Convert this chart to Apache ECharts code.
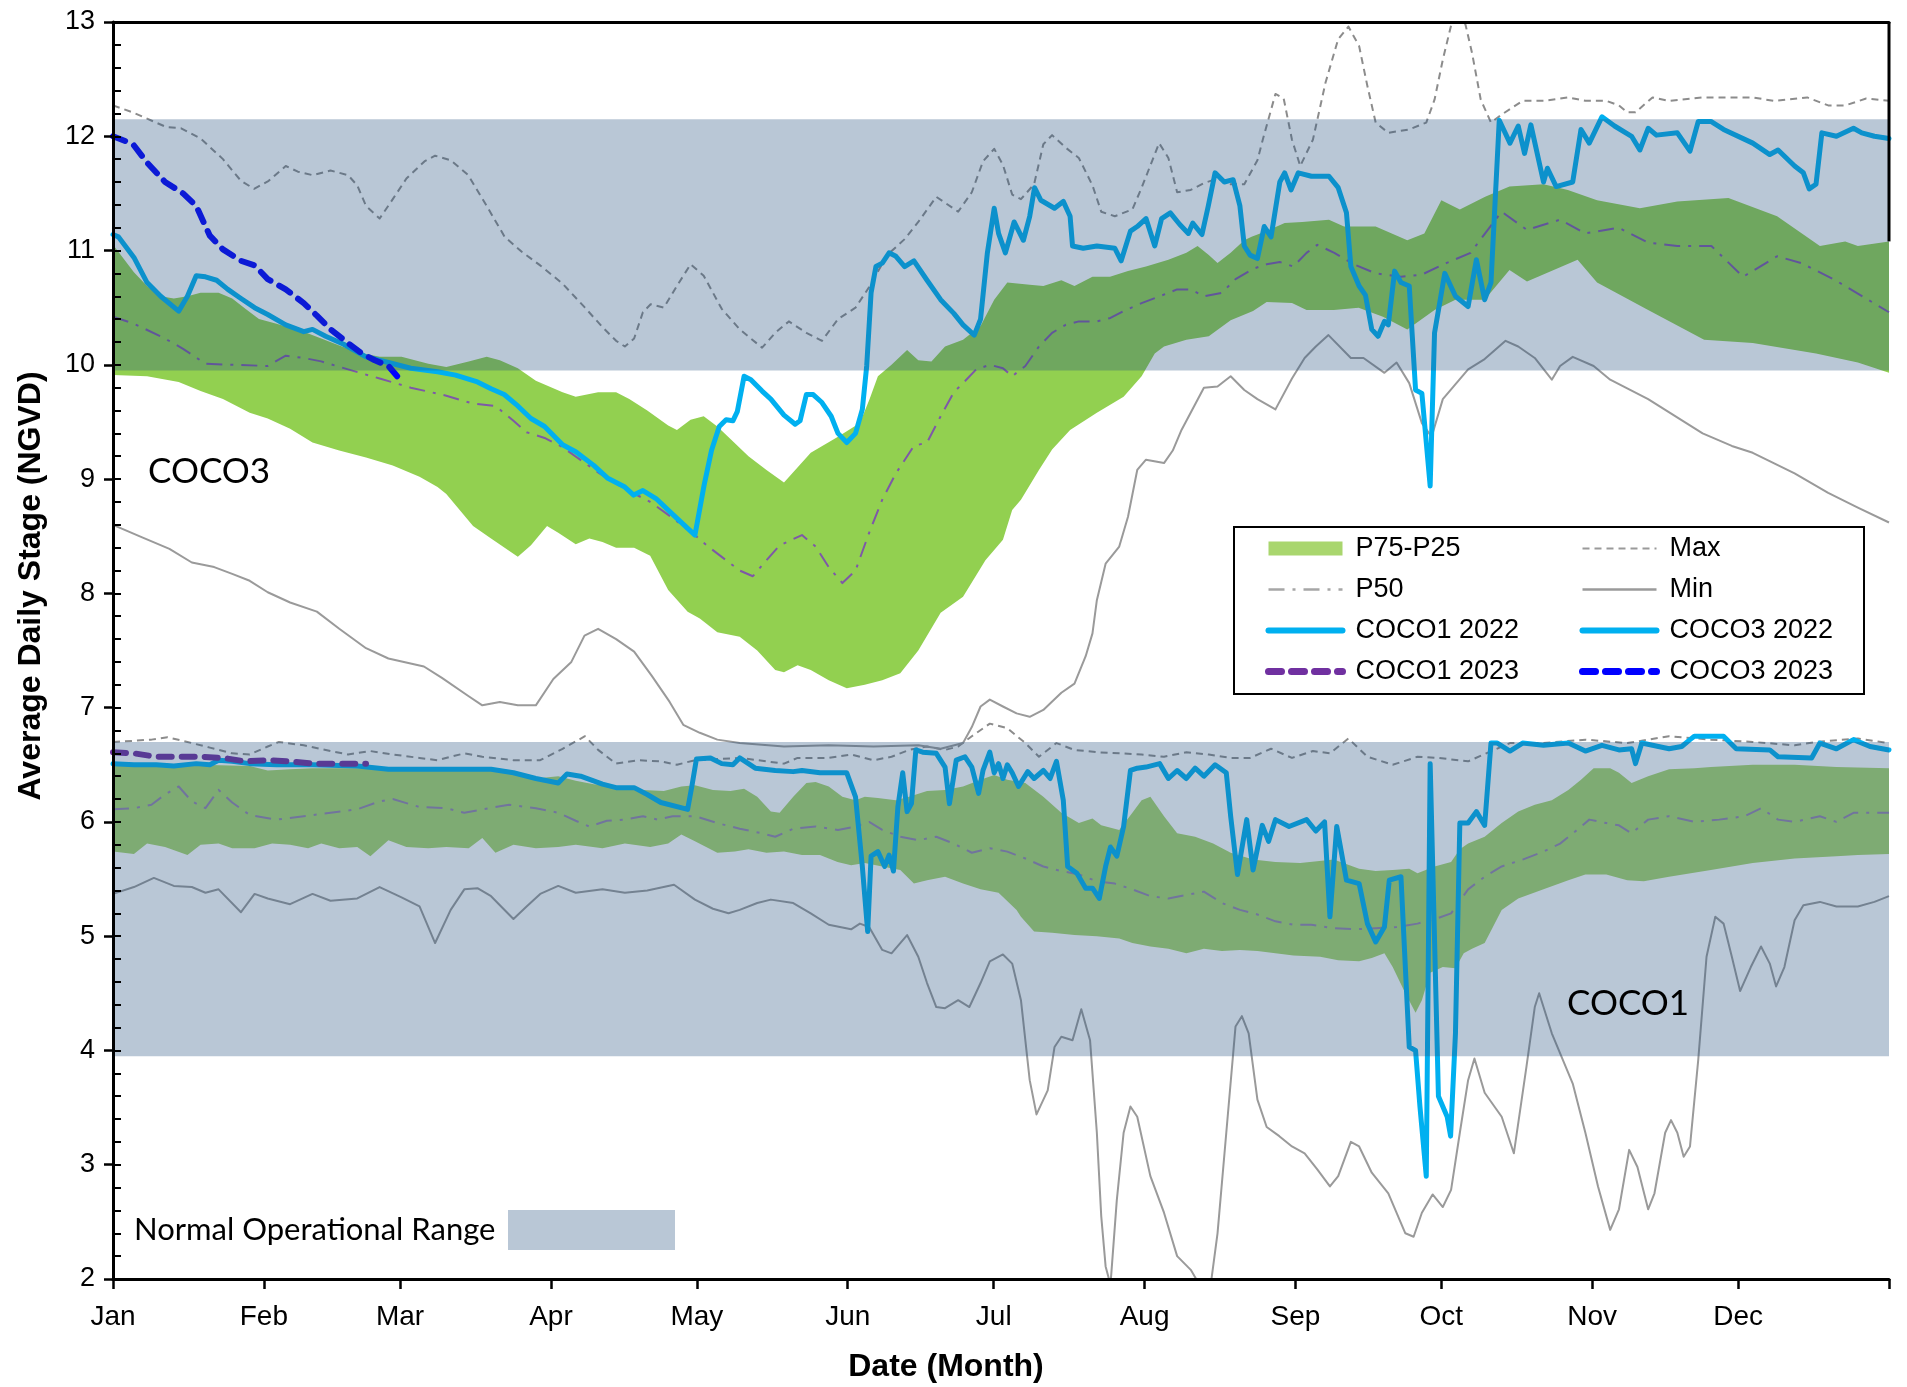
<!DOCTYPE html>
<html><head><meta charset="utf-8">
<script src="https://cdn.jsdelivr.net/npm/echarts@6/dist/echarts.min.js"></script>
<style>html,body{margin:0;padding:0;background:#fff}#c{width:1907px;height:1387px}</style>
</head><body><div id="c"></div>
<script>
// ---------- axes / labels ----------
const monthNames = ['Jan','Feb','Mar','Apr','May','Jun','Jul','Aug','Sep','Oct','Nov','Dec'];
const monthStartDays = [0,31,59,90,120,151,181,212,243,273,304,334];
const yearEndDay = 365;
const yRange = [2, 13];
const yTickStep = 1;
const yMinorStep = 0.2;

// ---------- normal operational ranges (stage, NGVD) ----------
const normalRangeCOCO3 = [9.95, 12.15];
const normalRangeCOCO1 = [3.95, 6.70];

// ---------- legend columns ----------
const legendLeftColumn = ['P75-P25', 'P50', 'COCO1 2022', 'COCO1 2023'];
const legendRightColumn = ['Max', 'Min', 'COCO3 2022', 'COCO3 2023'];

// ---------- COCO3 statistics ([day of year, stage]) ----------
const coco3Max = [[0,12.27],[4,12.21],[11,12.08],[14,12.07],[18,11.98],[22.6,11.8],[26.3,11.61],[29,11.54],[32,11.61],[35.5,11.74],[38,11.69],[41,11.66],[44.7,11.7],[48.3,11.66],[50.2,11.57],[52,11.39],[54.8,11.28],[57.5,11.45],[60.3,11.63],[64,11.78],[66.2,11.83],[69.4,11.79],[73,11.66],[76.8,11.39],[80.5,11.12],[84,10.99],[87.8,10.87],[92.4,10.71],[97,10.5],[100.6,10.33],[103.4,10.21],[105.2,10.16],[107.1,10.23],[108.9,10.46],[110.5,10.53],[113.2,10.5],[115.9,10.69],[118.7,10.88],[121.4,10.78],[125.1,10.49],[128.8,10.31],[133.4,10.15],[136.1,10.28],[138.9,10.38],[142.5,10.28],[145.7,10.21],[149,10.4],[152.6,10.5],[155.4,10.68],[159.1,10.96],[162.7,11.1],[165.5,11.25],[169.2,11.47],[173.7,11.34],[176.5,11.51],[178.8,11.78],[181.1,11.89],[182.9,11.75],[184.8,11.49],[186.6,11.45],[189.3,11.58],[191.2,11.93],[193,12.01],[195.8,11.9],[198.5,11.81],[201.3,11.57],[203.1,11.34],[205.9,11.3],[209.5,11.36],[211.4,11.55],[215,11.94],[216.9,11.81],[218.7,11.51],[221.5,11.53],[224.2,11.59],[227,11.63],[229.7,11.58],[232.5,11.58],[235.2,11.79],[236.3,11.97],[238.9,12.37],[240.6,12.33],[242.3,11.97],[244,11.74],[246.6,11.97],[249.2,12.47],[251.8,12.85],[253.9,12.96],[256.1,12.79],[257.8,12.44],[259.5,12.12],[262.1,12.03],[266.4,12.06],[269.9,12.12],[271.6,12.32],[273.3,12.67],[275,12.97],[276.5,13.15],[278,12.97],[279.3,12.73],[281.1,12.32],[283.2,12.12],[285.4,12.19],[289.7,12.31],[294,12.31],[299.1,12.34],[302.6,12.31],[306.9,12.31],[309.5,12.27],[311.2,12.21],[312.9,12.21],[316.4,12.34],[319.8,12.31],[326.7,12.34],[337,12.34],[341.3,12.31],[348.2,12.34],[352.5,12.27],[356,12.27],[360.3,12.33],[365,12.31]];
const coco3Min = [[0,8.6],[6,8.49],[11.6,8.39],[16.2,8.27],[20.8,8.23],[24.5,8.17],[28.1,8.11],[31.8,8.01],[36.4,7.92],[41.9,7.84],[46.5,7.69],[52,7.52],[56.6,7.43],[63.9,7.36],[67.6,7.26],[73.1,7.1],[75.9,7.02],[79.5,7.05],[83.2,7.02],[86.9,7.02],[90.5,7.25],[94.2,7.4],[96.9,7.63],[99.7,7.69],[103.4,7.6],[107.1,7.49],[110.7,7.28],[114.4,7.05],[117.2,6.85],[120.6,6.78],[124.2,6.72],[128.8,6.69],[137.9,6.66],[147.1,6.67],[156.3,6.66],[165.5,6.67],[170.1,6.64],[174.7,6.69],[176.5,6.83],[178.3,7.01],[180.2,7.07],[182.9,7.01],[185.7,6.95],[188.4,6.92],[191.2,6.98],[194.9,7.13],[197.6,7.21],[199.9,7.45],[201.3,7.65],[202.2,7.94],[204,8.26],[206.8,8.41],[208.6,8.67],[210.5,9.08],[212.3,9.17],[216,9.14],[217.8,9.25],[219.6,9.43],[224.2,9.8],[227,9.81],[229.7,9.9],[232.5,9.78],[235.2,9.7],[238.9,9.61],[242.3,9.88],[244.9,10.06],[247.2,10.16],[249.8,10.26],[254.4,10.06],[257,10.06],[261.3,9.93],[263.8,10.02],[266.4,9.84],[269,9.49],[271,9.37],[273.3,9.7],[278.5,9.96],[281.9,10.05],[286.2,10.21],[288.8,10.16],[292.2,10.06],[295.7,9.87],[297.4,9.99],[300,10.07],[304.3,9.99],[307.7,9.87],[315.5,9.7],[326.7,9.4],[332.7,9.29],[337,9.23],[345.6,9.05],[352.5,8.88],[358.6,8.75],[365,8.62]];
const coco3P75 = [[0,11.05],[4.3,10.81],[7,10.69],[9.8,10.6],[12.5,10.58],[15.3,10.6],[18,10.63],[21.7,10.63],[24.5,10.58],[27.2,10.49],[30,10.4],[33.6,10.36],[39.2,10.29],[42.8,10.23],[46.5,10.17],[50.2,10.11],[54.8,10.07],[59.3,10.07],[64.8,10.01],[68.5,9.98],[73.1,10.03],[76.8,10.07],[79.5,10.04],[83.2,9.97],[86.9,9.86],[92.4,9.76],[95.1,9.72],[99.7,9.76],[103.4,9.76],[106.1,9.7],[109.8,9.6],[114.1,9.47],[115.9,9.43],[118.7,9.52],[121.4,9.55],[124.2,9.46],[126.9,9.35],[130.6,9.2],[134.3,9.08],[137.9,8.97],[143.4,9.23],[149,9.37],[153.5,9.49],[155.5,9.7],[157.2,9.9],[160,10.0],[163.2,10.13],[165.5,10.04],[168.2,10.03],[171,10.16],[174.7,10.22],[178.3,10.34],[181.1,10.57],[183.8,10.72],[188.4,10.7],[191.2,10.69],[194.9,10.74],[197.6,10.69],[201.3,10.77],[204.9,10.77],[208.6,10.82],[212.3,10.86],[216.9,10.92],[220.6,10.98],[222.9,11.04],[225.2,10.96],[227,10.89],[229.7,10.98],[232.5,11.09],[234,11.12],[237.1,11.17],[240.8,11.24],[244.4,11.25],[249.9,11.27],[253,11.21],[259.5,11.21],[266,11.09],[269.5,11.15],[273,11.44],[276.8,11.36],[282,11.47],[287,11.56],[294,11.58],[299,11.53],[305,11.44],[313.8,11.37],[321.5,11.43],[332,11.46],[342,11.3],[350.8,11.04],[356,11.08],[358.6,11.04],[365,11.08]];
const coco3P25 = [[0,9.91],[7,9.9],[13.5,9.85],[18,9.77],[22.6,9.7],[28.1,9.58],[31.8,9.53],[36.4,9.44],[41,9.32],[46.5,9.25],[52,9.19],[57.5,9.12],[63,9.02],[66.7,8.93],[68.5,8.87],[74,8.59],[77.7,8.48],[83.2,8.32],[85.9,8.42],[89.2,8.59],[91.5,8.53],[95.1,8.43],[97.9,8.48],[100.6,8.45],[103.4,8.4],[107.1,8.4],[110.4,8.33],[114.1,8.03],[118.1,7.84],[120.6,7.78],[124.2,7.66],[128.8,7.62],[132.4,7.5],[136.1,7.33],[137.9,7.31],[140.7,7.37],[143.4,7.33],[147.1,7.24],[150.8,7.17],[154.5,7.2],[158.1,7.24],[161.8,7.3],[165.5,7.5],[170.1,7.83],[174.7,7.97],[179.3,8.29],[182.9,8.47],[184.8,8.73],[186.6,8.82],[190.3,9.08],[193,9.26],[196.7,9.43],[202.2,9.58],[207.7,9.72],[211.4,9.9],[214.1,10.1],[216,10.16],[220.6,10.22],[225.2,10.25],[229.7,10.39],[234.3,10.47],[237.1,10.55],[242.3,10.54],[245.3,10.48],[250.9,10.48],[256,10.5],[261,10.42],[266,10.31],[271.6,10.48],[275.9,10.57],[281.9,10.57],[287,10.83],[290.6,10.73],[301,10.92],[305,10.72],[315.5,10.48],[327,10.22],[337,10.19],[350,10.1],[358.6,10.02],[365,9.93]];
const coco3P50 = [[0,10.42],[4.3,10.36],[10.7,10.23],[14.4,10.14],[19,10.01],[24.5,10.0],[31.8,9.99],[35.5,10.08],[39.2,10.06],[42.8,10.03],[48.3,9.96],[54.8,9.88],[61.2,9.8],[68.5,9.73],[74,9.66],[78.6,9.64],[82.3,9.51],[85,9.41],[88.7,9.36],[92.4,9.28],[95,9.2],[100,9.05],[105,8.92],[110.4,8.8],[115,8.66],[119.6,8.51],[122.3,8.41],[128.8,8.2],[131.5,8.15],[134.3,8.29],[137,8.42],[141.6,8.51],[144.4,8.41],[147.1,8.23],[149.9,8.09],[152.6,8.2],[155.4,8.53],[158.1,8.82],[160.9,9.05],[164.6,9.29],[167.3,9.32],[170.1,9.55],[172.8,9.76],[174.7,9.84],[177.4,9.96],[180.2,10.0],[182.9,9.97],[184.8,9.9],[187.5,9.99],[190.3,10.16],[193,10.28],[195.8,10.35],[198.5,10.38],[202.2,10.38],[205,10.41],[207.7,10.47],[211.4,10.54],[215.1,10.6],[218.7,10.66],[221.5,10.66],[224.2,10.6],[227.9,10.63],[230.7,10.75],[234.3,10.84],[237.1,10.88],[239.8,10.9],[242.6,10.86],[245.3,10.98],[247.5,11.05],[251,10.98],[255,10.88],[259.5,10.8],[264.7,10.77],[269,10.79],[274,10.89],[279,10.98],[282,11.15],[285.4,11.34],[290.6,11.18],[297.4,11.27],[302.6,11.15],[309.4,11.2],[315.5,11.07],[321.5,11.04],[328.5,11.04],[335,10.77],[342,10.95],[347,10.89],[354,10.74],[365,10.46]];
const coco3Stage2022 = [[0,11.14],[1.1,11.12],[4.3,10.94],[7,10.72],[9.8,10.6],[13.5,10.47],[15.3,10.6],[17.1,10.78],[19,10.77],[21.3,10.74],[23.6,10.66],[26.3,10.58],[29.1,10.5],[31.8,10.44],[35.5,10.35],[39.2,10.29],[41,10.31],[43.7,10.25],[47.4,10.18],[52,10.07],[56.6,10.02],[61.2,9.97],[66.7,9.94],[70.4,9.91],[74.9,9.85],[77.7,9.79],[80.4,9.74],[83.2,9.64],[85.9,9.53],[88.7,9.46],[92.4,9.3],[95.1,9.24],[98.8,9.12],[101.6,9.01],[105.2,8.93],[107,8.86],[108.9,8.9],[111.6,8.83],[115.3,8.68],[119.6,8.51],[121.5,8.95],[123,9.25],[124.6,9.46],[126,9.52],[127.4,9.51],[128.3,9.59],[129.7,9.9],[131.1,9.87],[133.4,9.77],[135.2,9.7],[137.9,9.56],[140.2,9.48],[141.2,9.51],[142.5,9.74],[143.9,9.74],[145.7,9.67],[147.6,9.55],[149,9.4],[150.8,9.32],[152.6,9.4],[154,9.61],[154.9,9.99],[155.8,10.63],[156.8,10.86],[158.1,10.89],[159.5,10.98],[160.9,10.95],[162.7,10.86],[164.6,10.91],[167.3,10.74],[170.1,10.57],[172.8,10.45],[174.7,10.35],[177,10.26],[178.3,10.4],[179.7,10.98],[181.1,11.37],[182,11.15],[183.4,10.98],[185.2,11.25],[187.1,11.09],[188.4,11.3],[189.4,11.55],[190.7,11.44],[193.5,11.37],[195.3,11.43],[196.7,11.3],[197.2,11.04],[199.4,11.02],[202.2,11.04],[205.9,11.02],[207.2,10.91],[209.1,11.17],[210.5,11.21],[212.3,11.28],[214.1,11.04],[215.5,11.28],[217.3,11.33],[219.2,11.23],[221,11.15],[221.9,11.24],[223.8,11.14],[225.1,11.39],[226.5,11.68],[228.4,11.6],[230.2,11.62],[231.6,11.39],[232.5,11.04],[233.7,10.96],[235.2,10.93],[236.6,11.21],[238,11.12],[239.8,11.6],[240.8,11.68],[242.1,11.53],[243.6,11.68],[246.3,11.65],[249.9,11.65],[251.8,11.55],[253.5,11.33],[254.4,10.86],[256.1,10.69],[257.4,10.61],[258.7,10.31],[260,10.25],[261.3,10.38],[262.1,10.35],[263.4,10.82],[264.7,10.72],[266.4,10.69],[267.7,9.78],[269,9.75],[270.7,8.94],[271.6,10.28],[273.7,10.8],[275.9,10.6],[278.5,10.51],[280.2,10.92],[281.9,10.57],[283.2,10.72],[284.9,12.14],[287.1,11.94],[288.8,12.09],[290.1,11.85],[291.4,12.1],[294,11.6],[294.8,11.72],[296.6,11.56],[300,11.6],[301.7,12.06],[303.4,11.94],[306,12.17],[308.6,12.09],[312.1,12.0],[313.8,11.88],[315.5,12.07],[317.2,12.01],[321.5,12.03],[324.1,11.87],[325.8,12.13],[328.4,12.13],[331,12.06],[337,11.94],[340.5,11.84],[342.2,11.88],[345.6,11.74],[347.4,11.68],[348.6,11.54],[350,11.58],[351.2,12.03],[354.2,12.0],[357.7,12.07],[359.4,12.03],[362,12.0],[365,11.98]];
const coco3Stage2023 = [[0,12.0],[3,11.95],[4.3,11.92],[7,11.77],[10.7,11.6],[14.4,11.5],[17.1,11.39],[19.9,11.13],[22.6,11.01],[26.3,10.91],[29.1,10.87],[31.8,10.75],[35.5,10.66],[39.2,10.54],[41.9,10.43],[44.7,10.31],[48.3,10.19],[51.1,10.1],[53.8,10.04],[56.6,9.99],[58.4,9.9]];

// ---------- COCO1 statistics ----------
const coco1Max = [[0,6.7],[4.3,6.71],[7.9,6.72],[11.2,6.74],[15.3,6.7],[19.9,6.65],[24.5,6.6],[28.1,6.59],[31.8,6.66],[34.1,6.7],[39.2,6.67],[44.7,6.62],[48.3,6.59],[52.9,6.62],[57.5,6.59],[63,6.56],[66.7,6.54],[72.2,6.6],[75.9,6.57],[82.3,6.54],[87.8,6.54],[92.4,6.64],[97,6.75],[99.7,6.63],[103.4,6.51],[108,6.54],[112.6,6.53],[115.9,6.5],[119.6,6.54],[128.8,6.56],[134.3,6.53],[137.9,6.51],[140.7,6.56],[147.1,6.56],[151.7,6.59],[156.3,6.54],[160,6.57],[163.6,6.63],[167.3,6.66],[171,6.63],[173.7,6.66],[176.5,6.75],[180.2,6.86],[183.8,6.82],[187.5,6.69],[190.3,6.57],[193.9,6.69],[197.6,6.63],[202.2,6.61],[206.8,6.6],[211.4,6.59],[216,6.57],[220.6,6.61],[225.2,6.59],[229.7,6.56],[233.7,6.56],[238,6.64],[242.3,6.56],[246.6,6.62],[250.1,6.6],[253.9,6.73],[257.8,6.57],[263,6.5],[268.1,6.57],[272.4,6.56],[278.5,6.53],[282.8,6.61],[287.1,6.69],[294,6.69],[302.6,6.72],[311.2,6.69],[319.8,6.75],[328.4,6.72],[337,6.7],[345.6,6.67],[350,6.7],[358.6,6.73],[365,6.69]];
const coco1Min = [[0,5.37],[4.3,5.43],[8.4,5.51],[12.5,5.44],[16.2,5.43],[19,5.38],[21.7,5.41],[26.3,5.21],[29.1,5.37],[31.8,5.33],[36.4,5.28],[41,5.37],[44.7,5.31],[50.2,5.33],[54.8,5.43],[59.3,5.34],[63,5.26],[66.2,4.94],[69.4,5.23],[72.2,5.41],[74.9,5.42],[77.7,5.35],[82.3,5.15],[85,5.26],[87.8,5.37],[91.5,5.44],[95.1,5.38],[100.6,5.41],[105.2,5.38],[109.8,5.4],[115.3,5.45],[119.6,5.32],[123.3,5.24],[126.5,5.2],[128.8,5.23],[132.4,5.29],[135.2,5.32],[139.8,5.29],[143.4,5.2],[147.1,5.1],[151.7,5.06],[153.5,5.11],[155.4,5.08],[158.1,4.88],[160,4.85],[163.2,5.01],[165.5,4.82],[167.3,4.59],[169.2,4.38],[171,4.37],[173.7,4.44],[176,4.38],[178.3,4.59],[180.2,4.78],[182.9,4.84],[184.8,4.76],[186.6,4.44],[188.4,3.74],[189.8,3.44],[192.1,3.65],[193.5,4.03],[194.9,4.12],[197.2,4.09],[199,4.36],[200.8,4.09],[202.2,3.28],[203.1,2.55],[204,2.11],[205,1.95],[206.3,2.69],[207.7,3.28],[209.1,3.51],[210.5,3.42],[213.2,2.9],[216,2.58],[218.7,2.2],[221.5,2.08],[223.3,1.95],[225.6,1.95],[227,2.4],[228.8,3.28],[230.7,4.21],[232,4.3],[233.4,4.15],[235.2,3.57],[237.1,3.33],[239.7,3.25],[242.3,3.16],[244.9,3.1],[247.5,2.96],[250.1,2.81],[251.8,2.9],[254.4,3.2],[256.1,3.16],[258.7,2.93],[262.1,2.75],[265.6,2.4],[267.3,2.37],[269,2.58],[271.2,2.74],[273.3,2.63],[275,2.78],[276.8,3.28],[278.5,3.74],[279.8,3.93],[281.9,3.63],[285.4,3.42],[287.9,3.1],[290.5,3.86],[292.2,4.38],[293.1,4.5],[295.7,4.15],[300,3.71],[302.6,3.28],[305.2,2.81],[307.7,2.43],[309.5,2.61],[311.6,3.13],[313.3,2.98],[315.5,2.61],[316.8,2.75],[319,3.28],[320.2,3.39],[321.5,3.28],[322.8,3.07],[324.1,3.16],[325.8,3.92],[327.5,4.82],[329.3,5.17],[331,5.11],[332.7,4.82],[334.4,4.52],[336.6,4.73],[338.7,4.91],[340.5,4.76],[341.8,4.56],[343.5,4.73],[345.6,5.14],[347.4,5.27],[350.8,5.3],[354.2,5.26],[358.6,5.26],[362,5.3],[365,5.35]];
const coco1P75 = [[0,6.5],[8.9,6.49],[18,6.5],[28.1,6.49],[31.8,6.45],[36.4,6.46],[41,6.47],[50.2,6.47],[59.3,6.46],[68.5,6.46],[77.7,6.46],[82.3,6.43],[86.9,6.38],[91.5,6.4],[95.1,6.36],[98.8,6.33],[105.2,6.31],[108.9,6.28],[113.2,6.27],[116.8,6.31],[119.6,6.32],[123.3,6.28],[126.9,6.27],[129.7,6.29],[132.4,6.22],[135.2,6.09],[137,6.08],[139.8,6.22],[142.5,6.34],[144.4,6.35],[147.1,6.31],[149.9,6.22],[152.6,6.19],[154.5,6.22],[157.2,6.21],[160.9,6.19],[163.6,6.22],[167.3,6.27],[171,6.28],[174.7,6.31],[178.3,6.37],[181.1,6.41],[183.8,6.37],[187.5,6.34],[191.2,6.22],[194.9,6.08],[198.5,5.99],[201.3,6.03],[203.1,5.97],[206.8,5.93],[209.5,6.08],[211.4,6.19],[213.2,6.22],[216,6.05],[218.7,5.9],[222.4,5.87],[226.1,5.81],[229.7,5.73],[234.3,5.67],[238.9,5.65],[244,5.64],[250.9,5.67],[256.1,5.59],[259.5,5.57],[263,5.58],[266.4,5.59],[268.1,5.55],[271.6,5.61],[275,5.65],[276.8,5.76],[278.5,5.81],[281.9,5.87],[285.4,5.99],[288.8,6.09],[292.2,6.15],[295.7,6.19],[299.1,6.28],[301.7,6.37],[304.3,6.47],[307.7,6.47],[309.5,6.43],[312.1,6.34],[315.5,6.4],[319.8,6.46],[325,6.47],[328.4,6.48],[337,6.5],[345.6,6.5],[354.2,6.48],[365,6.47]];
const coco1P25 = [[0,5.74],[4.3,5.72],[7,5.81],[10.7,5.78],[15.3,5.71],[18,5.8],[21.7,5.81],[24.5,5.77],[29.1,5.77],[32.7,5.81],[36.4,5.8],[40.1,5.77],[42.8,5.81],[46.5,5.77],[50.2,5.78],[52.9,5.7],[56.6,5.84],[60.3,5.78],[64.8,5.77],[68.5,5.78],[73.1,5.77],[75.9,5.86],[78.6,5.73],[82.3,5.8],[86.9,5.77],[91.5,5.78],[95.1,5.8],[100.6,5.77],[105.2,5.81],[110.4,5.78],[114.1,5.81],[116.8,5.89],[119.6,5.83],[124.2,5.73],[127.8,5.74],[130.6,5.76],[134.3,5.73],[137.9,5.74],[141.6,5.71],[145.3,5.71],[148.9,5.65],[151.7,5.62],[154.5,5.64],[158.1,5.61],[161.8,5.58],[164.6,5.46],[167.3,5.49],[171,5.52],[174.7,5.46],[178.3,5.41],[182,5.38],[185.7,5.23],[186.6,5.17],[189.3,5.04],[193,5.03],[197.6,5.01],[202.2,5.0],[206.8,4.98],[209.5,4.94],[213.2,4.91],[216.9,4.89],[220.6,4.85],[224.2,4.89],[227.9,4.87],[231.6,4.88],[235.2,4.87],[238.9,4.85],[242.6,4.83],[248.1,4.82],[251.8,4.79],[256.1,4.78],[258.7,4.81],[261.3,4.85],[263,4.73],[265.6,4.5],[267.7,4.33],[269,4.44],[270.7,4.68],[273.3,4.73],[275.9,4.72],[277.6,4.85],[279.3,4.89],[281.9,4.94],[283.6,5.08],[285.4,5.23],[288.8,5.33],[294,5.41],[299.1,5.49],[302.6,5.54],[306.9,5.54],[311.2,5.49],[314.6,5.48],[319.8,5.52],[328.4,5.58],[337,5.64],[345.6,5.68],[354.2,5.7],[358.6,5.71],[365,5.72]];
const coco1P50 = [[0,6.11],[4.3,6.12],[7.9,6.15],[10.7,6.24],[13.5,6.31],[16.2,6.18],[19,6.12],[21.7,6.28],[24.5,6.17],[28.1,6.06],[33.6,6.02],[39.2,6.05],[44.7,6.08],[50.2,6.11],[54.8,6.18],[57.5,6.2],[63,6.13],[68.5,6.12],[72.2,6.08],[75.9,6.11],[81.4,6.15],[86.9,6.12],[91.5,6.08],[95.1,6.01],[97.9,5.96],[101.5,6.01],[105.2,6.02],[108.9,6.05],[112,6.02],[115,6.05],[119.6,6.05],[124.2,5.99],[128.8,5.94],[133.4,5.9],[136.1,5.87],[139.8,5.94],[144.4,5.96],[149,5.93],[152.6,5.96],[155.4,6.0],[158.1,5.93],[161.8,5.87],[165.5,5.84],[169.2,5.87],[172.8,5.81],[176.5,5.73],[180.2,5.77],[183.8,5.74],[187.5,5.68],[191.2,5.61],[194.9,5.57],[198.5,5.54],[202.2,5.48],[205.9,5.46],[209.5,5.41],[213.2,5.35],[216.9,5.33],[220.6,5.36],[224.2,5.39],[227.9,5.29],[231.6,5.23],[235.2,5.19],[238.9,5.13],[242.6,5.1],[246.3,5.1],[250.9,5.07],[255.2,5.06],[259.5,5.07],[263.8,5.08],[268.1,5.11],[272.4,5.16],[275,5.2],[278.5,5.41],[281.9,5.52],[285.4,5.61],[289.7,5.67],[294,5.74],[297.4,5.81],[300.9,5.93],[303.4,6.02],[306.9,5.99],[309.5,5.97],[312.1,5.9],[315.5,6.02],[319.8,6.05],[325,6.0],[330.1,6.02],[335.3,6.05],[338.7,6.12],[342.2,6.02],[345.6,6.0],[350.8,6.05],[354.2,6.0],[357.7,6.08],[365,6.08]];
const coco1Stage2022 = [[0,6.51],[4.3,6.5],[8.9,6.5],[12.5,6.49],[17.1,6.51],[19.9,6.5],[21.7,6.54],[24.5,6.53],[28.1,6.51],[33.6,6.5],[41,6.5],[50.2,6.49],[56.6,6.46],[68.5,6.46],[77.7,6.46],[82.3,6.43],[86.9,6.38],[91.5,6.34],[93.3,6.42],[96.1,6.4],[100.6,6.33],[103.4,6.3],[107.1,6.3],[109.8,6.24],[112.6,6.17],[118.1,6.11],[119,6.32],[119.9,6.55],[122.8,6.56],[125.1,6.51],[127.4,6.5],[128.8,6.56],[132,6.47],[136.1,6.45],[139.8,6.44],[141.6,6.45],[145.3,6.43],[150.8,6.43],[152.6,6.22],[154,5.61],[155.1,5.04],[155.8,5.7],[157.2,5.74],[158.6,5.61],[159.5,5.71],[160.4,5.57],[161.3,6.13],[162.3,6.43],[163.2,6.09],[164.1,6.16],[165,6.63],[166.4,6.61],[169.2,6.6],[171,6.48],[171.9,6.16],[173.3,6.54],[175.1,6.57],[176.5,6.48],[177.9,6.25],[178.8,6.45],[180.2,6.61],[181.1,6.43],[182,6.51],[182.9,6.38],[183.8,6.5],[184.8,6.43],[186.1,6.31],[188,6.44],[189.3,6.38],[191.2,6.45],[192.6,6.38],[193.9,6.53],[195.3,6.19],[196.2,5.61],[198.1,5.55],[199.9,5.42],[201.3,5.42],[202.7,5.33],[204,5.61],[205,5.78],[206.3,5.7],[207.7,5.96],[209.1,6.45],[210.5,6.47],[212.3,6.48],[215.1,6.51],[216.9,6.38],[218.7,6.45],[220.6,6.38],[222.4,6.47],[224.2,6.4],[226.5,6.5],[228.8,6.43],[229.7,6.05],[231.1,5.54],[233,6.02],[234.3,5.58],[236.2,5.97],[237.5,5.83],[238.9,6.02],[241.7,5.96],[245.3,6.02],[247.2,5.92],[249,6.0],[250.1,5.17],[251.5,5.96],[253.5,5.49],[256.1,5.46],[257.8,5.11],[259.5,4.95],[261.3,5.08],[262.3,5.49],[264.7,5.52],[265.6,4.73],[266.4,4.03],[267.7,4.0],[268.6,3.51],[269.9,2.9],[270.7,6.51],[272.4,3.6],[274.2,3.42],[274.9,3.25],[275.9,4.15],[276.8,5.99],[278.5,5.99],[280.2,6.09],[281.9,5.97],[283.2,6.69],[284.5,6.69],[287.1,6.62],[289.7,6.69],[294,6.67],[299.1,6.69],[302.6,6.62],[306,6.67],[309.5,6.63],[312.1,6.64],[312.9,6.51],[314.2,6.69],[319.8,6.64],[322.4,6.66],[324.1,6.72],[325,6.75],[331,6.75],[333.6,6.64],[340.5,6.63],[342.2,6.57],[349.1,6.56],[350.8,6.69],[354.2,6.64],[357.7,6.72],[361.1,6.66],[365,6.63]];
const coco1Stage2023 = [[0,6.61],[4.3,6.6],[8.9,6.57],[13.5,6.57],[18,6.57],[22.6,6.56],[27.2,6.53],[31.8,6.54],[36.4,6.53],[41,6.51],[45.6,6.51],[52,6.51]];

// ---------- styling ----------
const FONT = "'Liberation Sans', Arial, sans-serif";
const OVERLAY = 'rgba(36,80,127,0.32)';

const chart = echarts.init(document.getElementById('c'), null, {renderer: 'canvas', width: 1907, height: 1387});

function band(upper, lower, color) {
  return {
    type: 'custom', name: 'P75-P25', z: 1, silent: true,
    coordinateSystem: 'cartesian2d',
    itemStyle: {color: color},
    data: [[upper[0][0], upper[0][1]]],
    renderItem: function (params, api) {
      const pts = upper.map(p => api.coord(p)).concat(lower.slice().reverse().map(p => api.coord(p)));
      return {type: 'polygon', shape: {points: pts}, style: {fill: color}};
    }
  };
}
function line(name, data, color, width, type, z, cap) {
  return {
    type: 'line', name: name, data: data, symbol: 'none', showSymbol: false, z: z, silent: true,
    clip: true, smooth: false, animation: false,
    lineStyle: {color: color, width: width, type: type, cap: cap || 'butt', join: 'round'},
    itemStyle: {color: color},
    emphasis: {disabled: true}
  };
}
const legendItemOverrides = {
  'P75-P25': {icon: 'rect', itemStyle: {color: '#A9D66E', opacity: 1}},
  'Max': {lineStyle: {width: 2, color: '#9A9A9A'}},
  'P50': {lineStyle: {color: '#A6A6A6', width: 2.5}},
  'Min': {lineStyle: {width: 2.5, color: '#9A9A9A'}},
  'COCO1 2022': {lineStyle: {width: 6, cap: 'round'}},
  'COCO3 2022': {lineStyle: {width: 6, cap: 'round'}},
  'COCO1 2023': {lineStyle: {width: 7, cap: 'round'}},
  'COCO3 2023': {lineStyle: {width: 7, cap: 'round'}}
};
function legendCol(names, left) {
  return {
    show: true, z: 12, left: left, top: 535, padding: 0,
    orient: 'vertical', itemGap: 14, itemWidth: 74, itemHeight: 14,
    selectedMode: false,
    itemStyle: {opacity: 0},
    textStyle: {fontFamily: FONT, fontSize: 27, color: '#000', padding: [0, 0, 0, 8]},
    data: names.map(n => Object.assign({name: n}, legendItemOverrides[n] || {}))
  };
}

const rangeData = [normalRangeCOCO3, normalRangeCOCO1];

const option = {
  animation: false,
  backgroundColor: '#ffffff',
  grid: {left: 113, right: 18, top: 22, bottom: 108, containLabel: false, outerBoundsMode: 'none'},
  xAxis: [{
    type: 'value', min: 0, max: yearEndDay, position: 'bottom', z: 10,
    axisLine: {show: true, onZero: false, lineStyle: {color: '#000', width: 3}},
    axisTick: {show: true, inside: false, length: 10, customValues: monthStartDays.concat([yearEndDay]), lineStyle: {color: '#000', width: 2.5}},
    axisLabel: {show: true, margin: 24, customValues: monthStartDays, fontFamily: FONT, fontSize: 28, color: '#000',
      formatter: function (v) { const i = monthStartDays.indexOf(Math.round(v)); return i >= 0 ? monthNames[i] : ''; }},
    splitLine: {show: false}
  }, {
    type: 'value', min: 0, max: yearEndDay, position: 'top', z: 10,
    axisLine: {show: true, onZero: false, lineStyle: {color: '#000', width: 3}},
    axisTick: {show: false}, axisLabel: {show: false}, splitLine: {show: false}
  }],
  yAxis: [{
    type: 'value', min: yRange[0], max: yRange[1], interval: yTickStep, position: 'left', z: 10,
    axisLine: {show: true, onZero: false, lineStyle: {color: '#000', width: 3}},
    axisTick: {show: true, inside: false, length: 9, lineStyle: {color: '#000', width: 2.5}},
    axisLabel: {show: true, margin: 18, fontFamily: FONT, fontSize: 27, color: '#000', showMinLabel: true, showMaxLabel: true},
    splitLine: {show: false}
  }, {
    type: 'value', min: yRange[0], max: yRange[1], interval: yMinorStep, position: 'left', z: 10,
    axisLine: {show: false},
    axisTick: {show: true, inside: true, length: 8, lineStyle: {color: '#000', width: 2}},
    axisLabel: {show: false}, splitLine: {show: false}
  }],
  legend: [legendCol(legendLeftColumn, 1265), legendCol(legendRightColumn, 1579)],
  series: [
    band(coco3P75, coco3P25, '#92D050'),
    band(coco1P75, coco1P25, '#A9D66E'),
    line('Max', coco3Max, '#8C8C8C', 2, [7, 5], 2),
    line('Max', coco1Max, '#8C8C8C', 2, [7, 5], 2),
    line('P50', coco3P50, '#7E58A8', 2, [16, 8, 3, 8], 2),
    line('P50', coco1P50, '#9585AC', 2, [16, 8, 3, 8], 2),
    line('Min', coco3Min, '#9A9A9A', 2, 'solid', 2),
    line('Min', coco1Min, '#9A9A9A', 2, 'solid', 2),
    line('COCO1 2022', coco1Stage2022, '#00B0F0', 5, 'solid', 3, 'round'),
    line('COCO3 2022', coco3Stage2022, '#00B0F0', 5, 'solid', 3, 'round'),
    line('COCO1 2023', coco1Stage2023, '#7030A0', 6, [13, 10], 3, 'round'),
    line('COCO3 2023', coco3Stage2023, '#0000FF', 6, [13, 10], 3, 'round'),
    {
      type: 'custom', name: 'Normal Operational Range', z: 6, silent: true,
      coordinateSystem: 'cartesian2d',
      data: rangeData,
      renderItem: function (params, api) {
        const lo = api.value(0), hi = api.value(1);
        const a = api.coord([0, hi]), b = api.coord([yearEndDay, lo]);
        return {type: 'rect', shape: {x: a[0], y: a[1], width: b[0] - a[0], height: b[1] - a[1]}, style: {fill: OVERLAY}};
      }
    }
  ]
};
chart.setOption(option);

const pTop = chart.convertToPixel({gridIndex: 0}, [yearEndDay, yRange[1]]);
const pBot = chart.convertToPixel({gridIndex: 0}, [yearEndDay, coco3P75[coco3P75.length - 1][1]]);

chart.setOption({
  graphic: [
    {type: 'line', z: 11, shape: {x1: pTop[0], y1: pTop[1], x2: pBot[0], y2: pBot[1]}, style: {stroke: '#000', lineWidth: 3}},
    {type: 'rect', z: 11, shape: {x: 1234, y: 527, width: 630, height: 167}, style: {fill: '#fff', stroke: '#000', lineWidth: 2}},
    {type: 'text', z: 11, x: 31, y: 586, rotation: Math.PI / 2,
      style: {text: 'Average Daily Stage (NGVD)', font: "bold 32px 'Liberation Sans', Arial, sans-serif", fill: '#000', align: 'center', verticalAlign: 'middle'}},
    {type: 'text', z: 11, x: 946, y: 1367,
      style: {text: 'Date (Month)', font: "bold 32px 'Liberation Sans', Arial, sans-serif", fill: '#000', align: 'center', verticalAlign: 'middle'}},
    {type: 'text', z: 11, x: 148, y: 472,
      style: {text: 'COCO3', font: "35px Lato, 'Open Sans', sans-serif", fill: '#000', align: 'left', verticalAlign: 'middle'}},
    {type: 'text', z: 11, x: 1567, y: 1004,
      style: {text: 'COCO1', font: "35px Lato, 'Open Sans', sans-serif", fill: '#000', align: 'left', verticalAlign: 'middle'}},
    {type: 'text', z: 11, x: 134, y: 1230,
      style: {text: 'Normal Operational Range', font: "31px Lato, 'Open Sans', sans-serif", fill: '#000', align: 'left', verticalAlign: 'middle'}},
    {type: 'rect', z: 11, shape: {x: 508, y: 1210, width: 167, height: 40}, style: {fill: OVERLAY}}
  ]
});
</script>
</body></html>
